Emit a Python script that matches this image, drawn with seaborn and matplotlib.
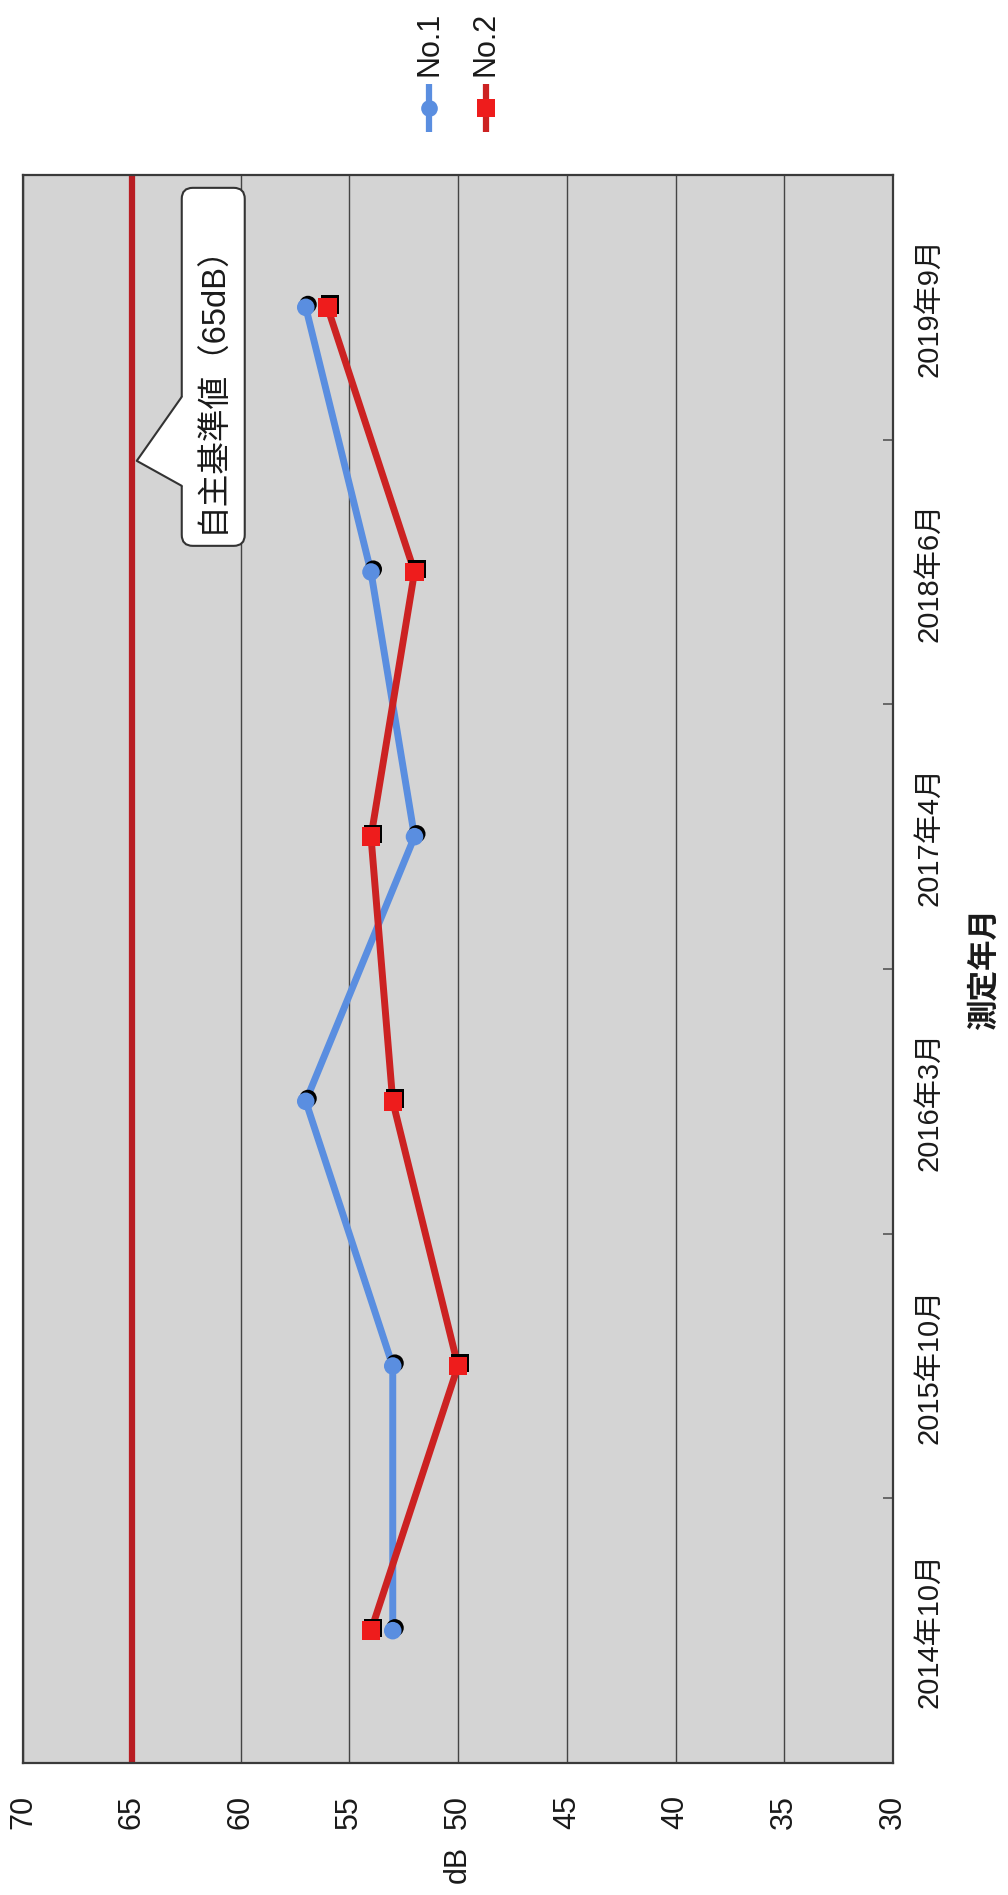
import numpy as np
import pandas as pd
import matplotlib
matplotlib.use("Agg")
import matplotlib.pyplot as plt
import matplotlib.patheffects as pe
import matplotlib.transforms as mtransforms
from matplotlib.patches import FancyBboxPatch, Polygon
from matplotlib.lines import Line2D
import seaborn as sns

# measurement data
periods = ["2014年10月", "2015年10月", "2016年3月", "2017年4月", "2018年6月", "2019年9月"]
no1_db = [53, 53, 57, 52, 54, 57]
no2_db = [54, 50, 53, 54, 52, 56]
series_names = ["No.1", "No.2"]
db_ticks = [70, 65, 60, 55, 50, 45, 40, 35, 30]
limit_db = 65
limit_label = "自主基準値（65dB）"

sns.set_theme(style="white")
plt.rcParams["font.family"] = ["Liberation Sans", "Noto Sans CJK JP", "DejaVu Sans"]

df = pd.DataFrame({"period": periods, "pos": np.arange(len(periods)),
                   "No.1": no1_db, "No.2": no2_db})
long = df.melt(id_vars=["period", "pos"], value_vars=series_names,
               var_name="series", value_name="dB")

line_colors = {"No.1": "#5a8ee0", "No.2": "#cc2222"}
marker_colors = {"No.1": "#5a8ee0", "No.2": "#ee1c1c"}
marker_shapes = {"No.1": "o", "No.2": "s"}
marker_sizes = {"No.1": 160, "No.2": 175}

fig = plt.figure(figsize=(10.08, 18.95), dpi=100)
ax = fig.add_axes([23 / 1008, 1 - 1763 / 1895, 870 / 1008, 1588 / 1895])
ax.set_facecolor("#d4d4d4")

# vertical chart: dB runs along x (reversed), periods along y
ax.set_xlim(70, 30)
ax.set_ylim(-0.5, len(periods) - 0.5)
ax.grid(axis="x", color="#454545", linewidth=1.0)
ax.grid(axis="y", visible=False)

ax.axvline(limit_db, color="#b81c22", linewidth=4.5, zorder=2)

sns.lineplot(data=long, x="dB", y="pos", hue="series", palette=line_colors,
             orient="y", sort=False, estimator=None, linewidth=5,
             legend=False, ax=ax, zorder=3)

shadow = [pe.SimplePatchShadow(offset=(1.6, 2.0), shadow_rgbFace="black", alpha=1.0),
          pe.Normal()]
for name in series_names:
    sub = long[long["series"] == name]
    sns.scatterplot(data=sub, x="dB", y="pos", marker=marker_shapes[name],
                    s=marker_sizes[name], color=marker_colors[name],
                    linewidth=0, legend=False, ax=ax, zorder=4)
    ax.collections[-1].set_path_effects(shadow)

# axes ticks and labels
ax.set_xticks(db_ticks)
ax.set_xticklabels([str(t) for t in db_ticks])
ax.tick_params(axis="x", length=0, pad=23, labelsize=22, labelrotation=90,
               colors="#1a1a1a")

ax.yaxis.tick_right()
ax.set_yticks(np.arange(len(periods)))
ax.set_yticklabels(periods)
ax.set_yticks(np.arange(-0.5, len(periods), 1.0), minor=True)
ax.tick_params(axis="y", which="major", length=0, pad=16, labelsize=21,
               labelrotation=90, colors="#1a1a1a")
ax.tick_params(axis="y", which="minor", length=7, width=1.2, direction="in",
               color="#555555", left=False, right=True)
for lab in ax.get_yticklabels():
    lab.set_va("center")

ax.set_xlabel("dB", fontsize=22, rotation=90, labelpad=12, color="#1a1a1a")
ax.yaxis.set_label_position("right")
ax.set_ylabel("測定年月", fontsize=22, fontweight="bold", rotation=90,
              labelpad=19, color="#1a1a1a")

for sp in ax.spines.values():
    sp.set_visible(True)
    sp.set_color("#3a3a3a")
    sp.set_linewidth(1.6)

# callout box pointing at the limit line (geometry in inches from the tip)
callout_y = 4.42
trans = fig.dpi_scale_trans + mtransforms.ScaledTranslation(limit_db, callout_y, ax.transData)
bx0, bx1, by0, by1 = 0.50, 1.13, -0.85, 2.73
base_top, base_bot = 0.64, -0.25
tip_dx = 0.05
box = FancyBboxPatch((bx0, by0), bx1 - bx0, by1 - by0,
                     boxstyle="round,pad=0,rounding_size=0.11",
                     transform=trans, facecolor="white", edgecolor="#333333",
                     linewidth=1.5, zorder=6, clip_on=False)
ax.add_patch(box)
ax.add_patch(Polygon([(tip_dx, 0), (bx0, base_top), (bx0 + 0.03, base_top),
                      (bx0 + 0.03, base_bot), (bx0, base_bot)],
                     closed=True, transform=trans, facecolor="white",
                     edgecolor="none", zorder=7, clip_on=False))
ax.add_line(Line2D([bx0, tip_dx, bx0], [base_top, 0, base_bot], transform=trans,
                   color="#333333", linewidth=1.5, zorder=8, clip_on=False))
ax.text((bx0 + bx1) / 2, 0.80, limit_label, transform=trans, rotation=90,
        ha="center", va="center", fontsize=23.5, color="#1a1a1a", zorder=9)

# legend entries drawn upright along the top edge
H = 1895.0
legend_x = {"No.1": 429 / 1008, "No.2": 486 / 1008}
for name in series_names:
    x = legend_x[name]
    fig.add_artist(Line2D([x, x], [1 - 132 / H, 1 - 84 / H], transform=fig.transFigure,
                          color=line_colors[name], linewidth=4.5,
                          solid_capstyle="butt"))
    fig.add_artist(Line2D([x], [1 - 108 / H], transform=fig.transFigure,
                          marker=marker_shapes[name],
                          markersize=12 if name == "No.1" else 13,
                          markerfacecolor=marker_colors[name],
                          markeredgewidth=0, linestyle="none"))
    fig.text(x, 1 - 76 / H, name, rotation=90, ha="center", va="bottom",
             fontsize=22, color="#1a1a1a")

fig.savefig("out.png", dpi=100, facecolor="white")
